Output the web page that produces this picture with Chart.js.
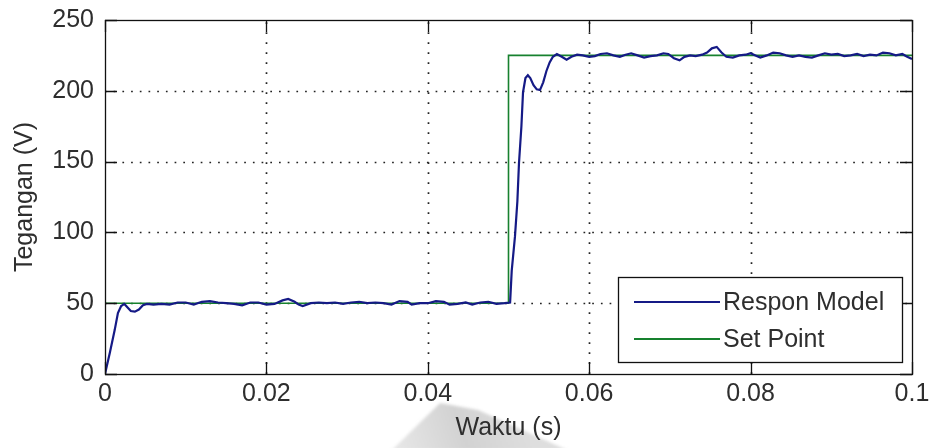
<!DOCTYPE html>
<html>
<head>
<meta charset="utf-8">
<script src="https://cdn.jsdelivr.net/npm/chart.js@4.4.1/dist/chart.umd.min.js"></script>
<style>
  html, body { margin: 0; padding: 0; background: #ffffff; }
  canvas { display: block; }
</style>
</head>
<body>
<canvas id="chart" width="930" height="448"></canvas>
<script>
// Model response samples: time (s) and voltage (V)
const respTime = [
  0, 0.0006, 0.0012, 0.0016, 0.0020, 0.0024, 0.0028, 0.0032, 0.0037, 0.0042,
  0.0047, 0.0052, 0.0060, 0.0070, 0.0080, 0.0090, 0.0100, 0.0110, 0.0120, 0.0130,
  0.0140, 0.0150, 0.0160, 0.0170, 0.0180, 0.0190, 0.0200, 0.0210, 0.0220, 0.0227,
  0.0235, 0.0240, 0.0245, 0.0255, 0.0265, 0.0275, 0.0285, 0.0295, 0.0305, 0.0315,
  0.0325, 0.0335, 0.0345, 0.0355, 0.0365, 0.0375, 0.0380, 0.0390, 0.0400, 0.0410,
  0.0420, 0.0427, 0.0437, 0.0447, 0.0455, 0.0465, 0.0475, 0.0485, 0.0495, 0.0502,
  0.0504, 0.0508, 0.0511, 0.0513, 0.0516, 0.0518, 0.0521, 0.0524, 0.0527, 0.0531,
  0.0535, 0.0539, 0.0543, 0.0547, 0.0551, 0.0555, 0.0560, 0.0566, 0.0572, 0.0578,
  0.0585, 0.0592, 0.0600, 0.0607, 0.0614, 0.0622, 0.0630, 0.0638, 0.0645, 0.0652,
  0.0660, 0.0668, 0.0676, 0.0684, 0.0692, 0.0698, 0.0705, 0.0712, 0.0718, 0.0725,
  0.0732, 0.0740, 0.0746, 0.0752, 0.0758, 0.0764, 0.0770, 0.0778, 0.0786, 0.0794,
  0.0800, 0.0806, 0.0812, 0.0820, 0.0828, 0.0836, 0.0844, 0.0852, 0.0860, 0.0868,
  0.0876, 0.0884, 0.0892, 0.0900, 0.0908, 0.0916, 0.0924, 0.0932, 0.0940, 0.0948,
  0.0956, 0.0964, 0.0972, 0.0980, 0.0988, 0.0994, 0.1000
];
const respVolt = [
  0, 15, 31, 43, 48, 49.5, 47, 44.5, 44, 45.5,
  48.5, 49.5, 49, 49.5, 49, 50.5, 50.5, 49, 51, 51.5,
  50.5, 50, 49.5, 48.5, 50.5, 50.5, 49, 49.5, 52, 53,
  51, 49, 48, 50, 50.5, 50, 50.5, 49.5, 50.5, 51,
  50, 50.5, 50, 49, 51.5, 51, 49, 50, 50, 51.5,
  51, 49, 49.5, 50.5, 49, 50.5, 51, 49.5, 50, 50.5,
  73, 97, 122, 149, 175, 199, 209, 211, 209, 204,
  201, 200.5, 206, 214, 220, 224, 226, 224, 222, 224,
  225.5, 225, 224, 224.5, 226, 226.5, 225, 224, 225.5, 226.5,
  225, 223.5, 224.5, 225, 226.5, 226, 223, 221.5, 224, 225,
  224.5, 225.5, 227, 230, 231, 227, 224, 223.5, 225, 225.5,
  226.5, 225, 223.5, 225, 227, 226.5, 225, 224, 225, 224,
  223.5, 225, 226.5, 225.5, 226, 224.5, 225, 226, 224.5, 225.5,
  225, 227, 226.5, 225, 226, 224, 222.5
];

// Reference (set point) signal
const spTime = [0, 0.05, 0.05, 0.1];
const spVolt = [50, 50, 225, 225];

// Axis ticks and labels
const xTicks = [0, 0.02, 0.04, 0.06, 0.08, 0.1];
const xTickLabels = ['0', '0.02', '0.04', '0.06', '0.08', '0.1'];
const yTicks = [0, 50, 100, 150, 200, 250];
const yTickLabels = ['0', '50', '100', '150', '200', '250'];
const seriesNames = ['Respon Model', 'Set Point'];
const seriesColors = ['#151a86', '#17812e'];

const FONT = { family: '"Liberation Sans", Arial, sans-serif', size: 25 };
const TEXT_COLOR = '#2e2e2e';

const toPoints = (xs, ys) => xs.map((x, i) => ({ x: x, y: ys[i] }));

// Faint grey stamp sitting under the x-axis title
const stampPlugin = {
  id: 'stamp',
  beforeDraw(chart) {
    const { ctx } = chart;
    ctx.save();
    const g = ctx.createLinearGradient(400, 448, 520, 405);
    g.addColorStop(0, '#e6e6e6');
    g.addColorStop(0.5, '#d2d2d2');
    g.addColorStop(1, '#dedede');
    ctx.fillStyle = g;
    ctx.filter = 'blur(1.5px)';
    ctx.beginPath();
    ctx.moveTo(392, 450);
    ctx.lineTo(440, 403);
    ctx.lineTo(478, 410);
    ctx.lineTo(567, 450);
    ctx.closePath();
    ctx.fill();
    ctx.restore();
  }
};

// Box, inward ticks, dotted grid and an inset legend in the classic style
const framePlugin = {
  id: 'frame',
  beforeDatasetsDraw(chart) {
    const { ctx, chartArea: a, scales: { x, y } } = chart;
    ctx.save();
    ctx.strokeStyle = '#222';
    ctx.lineWidth = 1.7;
    ctx.lineCap = 'butt';
    ctx.setLineDash([1.7, 8.3]);
    xTicks.forEach(v => {
      if (v <= x.min || v >= x.max) return;
      const px = Math.round(x.getPixelForValue(v)) + 0.5;
      ctx.beginPath();
      ctx.moveTo(px, a.bottom);
      ctx.lineTo(px, a.top);
      ctx.stroke();
    });
    ctx.setLineDash([1.7, 7.0]);
    yTicks.forEach(v => {
      if (v <= y.min || v >= y.max) return;
      const py = Math.round(y.getPixelForValue(v)) + 0.5;
      ctx.beginPath();
      ctx.moveTo(a.left, py);
      ctx.lineTo(a.right, py);
      ctx.stroke();
    });
    ctx.restore();
  },
  afterDatasetsDraw(chart) {
    const { ctx, chartArea: a, scales: { x, y } } = chart;
    const tick = 12;
    ctx.save();
    ctx.strokeStyle = '#111';
    ctx.lineWidth = 1.3;
    ctx.strokeRect(Math.round(a.left) + 0.5, Math.round(a.top) + 0.5,
                   Math.round(a.right - a.left), Math.round(a.bottom - a.top));
    ctx.beginPath();
    xTicks.forEach(v => {
      const px = Math.round(x.getPixelForValue(v)) + 0.5;
      ctx.moveTo(px, a.bottom); ctx.lineTo(px, a.bottom - tick);
      ctx.moveTo(px, a.top); ctx.lineTo(px, a.top + tick);
    });
    yTicks.forEach(v => {
      const py = Math.round(y.getPixelForValue(v)) + 0.5;
      ctx.moveTo(a.left, py); ctx.lineTo(a.left + tick, py);
      ctx.moveTo(a.right, py); ctx.lineTo(a.right - tick, py);
    });
    ctx.stroke();

    // inset legend, lower right
    const box = { left: a.right - 294, top: a.bottom - 97, width: 284, height: 85 };
    ctx.fillStyle = '#ffffff';
    ctx.fillRect(box.left, box.top, box.width, box.height);
    ctx.strokeStyle = '#111';
    ctx.lineWidth = 1.3;
    ctx.strokeRect(box.left + 0.5, box.top + 0.5, box.width, box.height);
    ctx.font = `${FONT.size}px ${FONT.family}`;
    ctx.textBaseline = 'middle';
    ctx.textAlign = 'left';
    const rows = [box.top + 25, box.top + 62];
    seriesNames.forEach((name, i) => {
      ctx.strokeStyle = seriesColors[i];
      ctx.lineWidth = 2;
      ctx.beginPath();
      ctx.moveTo(box.left + 16, rows[i]);
      ctx.lineTo(box.left + 102, rows[i]);
      ctx.stroke();
      ctx.fillStyle = TEXT_COLOR;
      ctx.fillText(name, box.left + 105, rows[i] + 1);
    });
    ctx.restore();
  }
};

new Chart(document.getElementById('chart'), {
  type: 'line',
  data: {
    datasets: [
      {
        label: seriesNames[0],
        data: toPoints(respTime, respVolt),
        borderColor: seriesColors[0],
        borderWidth: 2.2,
        pointRadius: 0,
        tension: 0,
        order: 1
      },
      {
        label: seriesNames[1],
        data: toPoints(spTime, spVolt),
        borderColor: seriesColors[1],
        borderWidth: 1.6,
        pointRadius: 0,
        tension: 0,
        order: 2
      }
    ]
  },
  options: {
    responsive: false,
    animation: false,
    events: [],
    layout: { padding: { left: 0, right: 18, top: 20, bottom: 0 } },
    plugins: { legend: { display: false }, tooltip: { enabled: false } },
    scales: {
      x: {
        type: 'linear',
        min: 0,
        max: 0.1,
        afterBuildTicks: s => { s.ticks = xTicks.map(v => ({ value: v })); },
        afterFit: s => { s.height = 74; s.paddingLeft = 0; s.paddingRight = 0; },
        grid: { display: false, drawTicks: false },
        border: { display: false },
        ticks: {
          autoSkip: false,
          maxRotation: 0,
          padding: 5,
          color: TEXT_COLOR,
          font: FONT,
          callback: (v, i) => xTickLabels[i]
        },
        title: {
          display: true,
          text: 'Waktu (s)',
          color: TEXT_COLOR,
          font: FONT,
          padding: { top: 0, bottom: 5 }
        }
      },
      y: {
        type: 'linear',
        min: 0,
        max: 250,
        afterBuildTicks: s => { s.ticks = yTicks.map(v => ({ value: v })); },
        afterFit: s => { s.width = 105; s.paddingTop = 0; s.paddingBottom = 0; },
        grid: { display: false, drawTicks: false },
        border: { display: false },
        ticks: {
          autoSkip: false,
          padding: 11,
          color: TEXT_COLOR,
          font: FONT,
          callback: (v, i) => yTickLabels[i]
        },
        title: {
          display: true,
          text: 'Tegangan (V)',
          color: TEXT_COLOR,
          font: FONT,
          padding: { top: 10, bottom: 0 }
        }
      }
    }
  },
  plugins: [stampPlugin, framePlugin]
});
</script>
</body>
</html>
